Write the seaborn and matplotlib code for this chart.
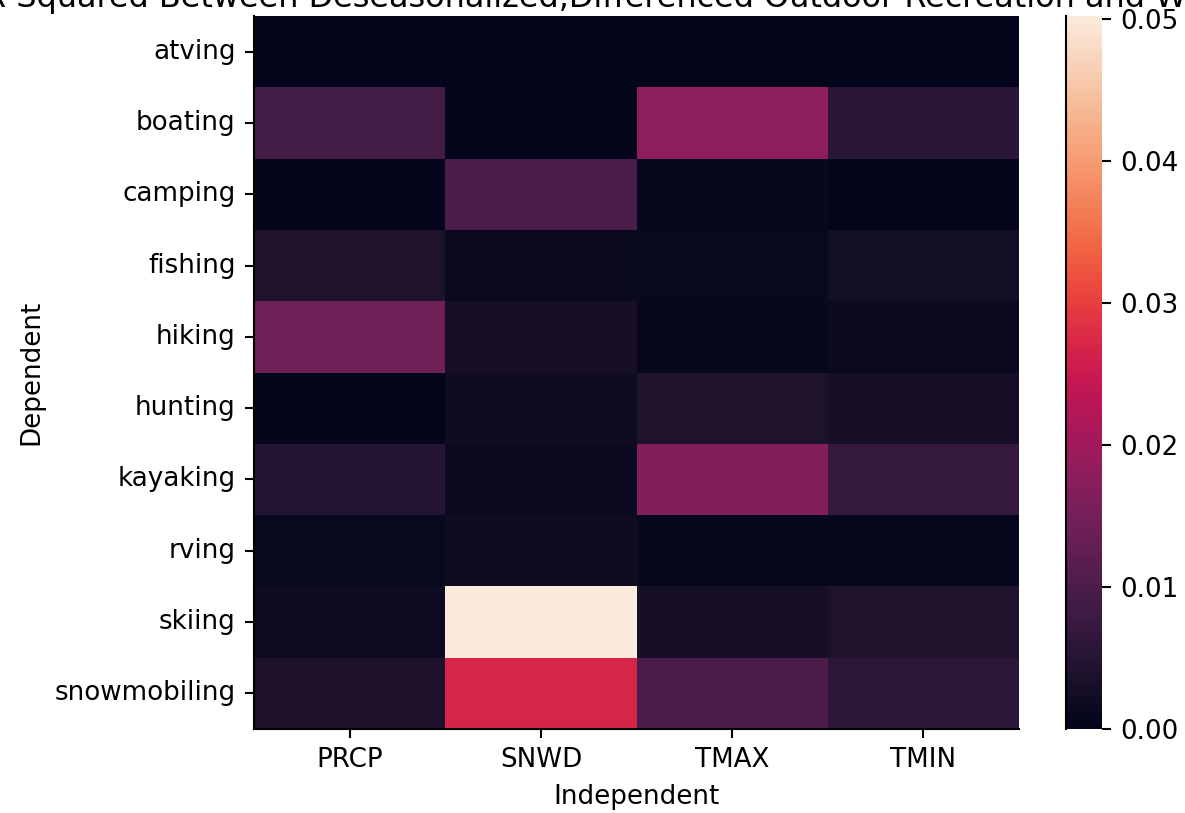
import matplotlib
matplotlib.use("Agg")
import matplotlib.pyplot as plt
import seaborn as sns
import pandas as pd
import numpy as np

dependent = ["atving", "boating", "camping", "fishing", "hiking", "hunting",
             "kayaking", "rving", "skiing", "snowmobiling"]
independent = ["PRCP", "SNWD", "TMAX", "TMIN"]

prcp = [0.0003, 0.0090, 0.0004, 0.0040, 0.0140, 0.0004, 0.0050, 0.0010, 0.0016, 0.0038]
snwd = [0.0001, 0.0004, 0.0100, 0.0015, 0.0030, 0.0018, 0.0012, 0.0020, 0.0502, 0.0270]
tmax = [0.0001, 0.0180, 0.0008, 0.0010, 0.0008, 0.0040, 0.0165, 0.0008, 0.0030, 0.0100]
tmin = [0.0000, 0.0055, 0.0004, 0.0025, 0.0014, 0.0030, 0.0070, 0.0006, 0.0040, 0.0060]

title = "R-Squared Between Deseasonalized,Differenced Outdoor Recreation and Weather"

df = pd.DataFrame({"PRCP": prcp, "SNWD": snwd, "TMAX": tmax, "TMIN": tmin},
                  index=pd.Index(dependent, name="Dependent"))
df.columns.name = "Independent"

W, H, DPI = 1185, 813, 188
fig = plt.figure(figsize=(W / DPI, H / DPI), dpi=DPI)
ax = fig.add_axes([254 / W, 1 - 729 / H, (1019 - 254) / W, (729 - 16) / H])
cax = fig.add_axes([1066 / W, 1 - 729 / H, 36 / W, (729 - 16) / H])

sns.heatmap(df, ax=ax, cbar_ax=cax, cmap="rocket", vmin=0)
ax.set_title(title, pad=3.4, fontsize=12.2)
ax.set_xlabel("Independent")
ax.set_ylabel("Dependent")
for s in ("left", "bottom"):
    ax.spines[s].set_visible(True)
    ax.spines[s].set_color("black")
    ax.spines[s].set_linewidth(0.8)
cax.spines["left"].set_visible(True)
cax.spines["left"].set_color("black")
cax.spines["left"].set_linewidth(0.8)

fig.savefig("out.png", dpi=DPI)
